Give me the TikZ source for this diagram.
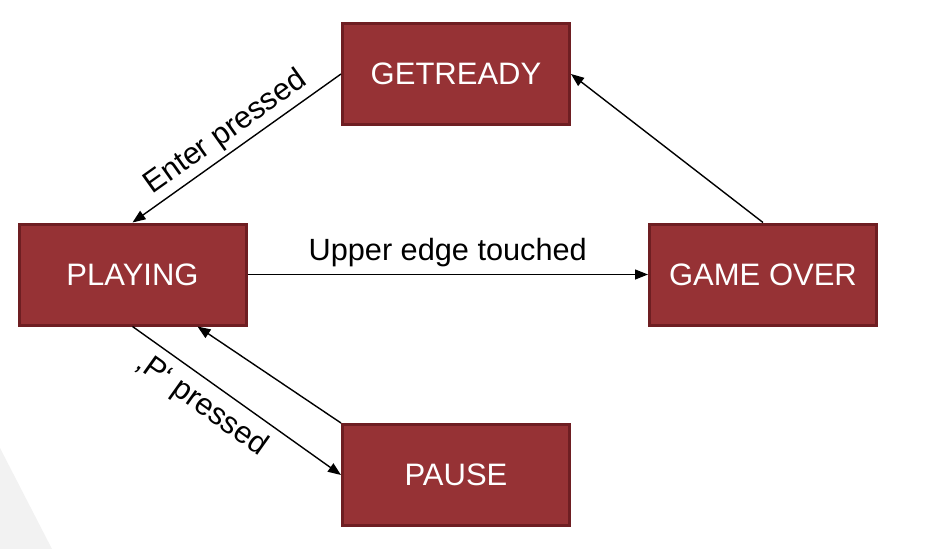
\documentclass[tikz,border=0pt]{standalone}
\usepackage{fontspec}
\setmainfont{Liberation Sans}
\usetikzlibrary{arrows.meta}
\definecolor{boxfill}{RGB}{150,50,53}
\definecolor{boxline}{RGB}{110,30,34}
\definecolor{bgtri}{RGB}{242,242,242}
\tikzset{
  state/.style={draw=boxline, fill=boxfill, line width=3pt, minimum width=227pt, minimum height=101pt, inner sep=0pt, text=white, font=\fontsize{31}{36}\selectfont},
  conn/.style={line width=1.4pt, -{Triangle[length=13pt,width=10pt]}},
  lbl/.style={font=\fontsize{30.7}{36}\selectfont, text=black}
}
\begin{document}
\begin{tikzpicture}[x=1pt,y=-1pt]
\useasboundingbox (0,0) rectangle (940,549);
\fill[bgtri] (0,448) -- (52,549) -- (0,549) -- cycle;
\node[state] (getready) at (456,74) {GETREADY};
\node[state] (playing) at (132.5,274.5) {PLAYING};
\node[state] (gameover) at (763,274.5) {GAME OVER};
\node[state] (pause) at (456,475) {PAUSE};
\draw[conn] (getready.west) -- node[lbl, sloped, above, inner sep=4pt] {Enter pressed} (playing.north);
\draw[conn] (playing.east) -- node[lbl, above, inner sep=7pt] {Upper edge touched} (gameover.west);
\draw[conn] (gameover.north) -- (getready.east);
\draw[conn] (playing.south) -- node[lbl, sloped, below, pos=0.40, inner sep=9pt] {‚P‘ pressed} (pause.west);
\draw[conn] (pause.north west) -- ([xshift=65pt]playing.south);
\end{tikzpicture}
\end{document}
